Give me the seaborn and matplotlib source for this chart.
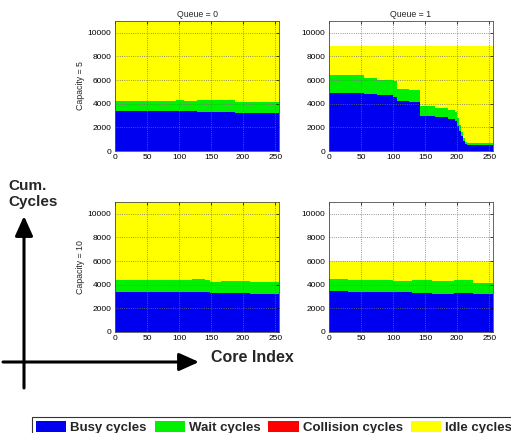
import numpy as np
import matplotlib
matplotlib.use("Agg")
import matplotlib.pyplot as plt
from matplotlib.patches import Patch
import seaborn as sns

sns.set_style("white")
plt.rcParams['font.family'] = ['Liberation Sans', 'DejaVu Sans']

# ---------------- data ----------------
series_names = ["Busy cycles", "Wait cycles", "Collision cycles", "Idle cycles"]
series_colors = ["#0000f0", "#00f000", "#ff0000", "#ffff00"]
n_cores = 256
queue_titles = ["Queue = 0", "Queue = 1"]
capacity_labels = ["Capacity = 5", "Capacity = 10"]
x_ticks = [0, 50, 100, 150, 200, 250]
y_ticks = [0, 2000, 4000, 6000, 8000, 10000]

# Queue = 0, Capacity = 5  (segment start core index, per-segment cycles)
q0c5_start = [0, 95, 108, 128, 152, 187, 225]
q0c5_busy = [3350, 3350, 3350, 3340, 3330, 3190, 3190]
q0c5_wait = [890, 980, 900, 980, 950, 960, 990]
q0c5_coll = [0, 0, 0, 0, 0, 0, 0]
q0c5_idle = [6960, 6870, 6950, 6880, 6920, 7050, 7020]

# Queue = 1, Capacity = 5
q1c5_start = [0, 55, 75, 100, 106, 125, 142, 165, 185, 197, 200, 203, 206, 209, 212, 215]
q1c5_busy = [4930, 4830, 4700, 4600, 4200, 4150, 2950, 2850, 2750, 2550, 2150, 1700, 1250, 850, 600, 490]
q1c5_wait = [1470, 1370, 1350, 1350, 1050, 1030, 900, 800, 700, 750, 650, 500, 350, 250, 180, 180]
q1c5_coll = [0] * 16
q1c5_idle = [2500, 2700, 2850, 2950, 3650, 3720, 5050, 5250, 5450, 5600, 6100, 6700, 7300, 7800, 8120, 8230]

# Queue = 0, Capacity = 10
q0c10_start = [0, 120, 140, 148, 165, 210]
q0c10_busy = [3380, 3380, 3380, 3270, 3320, 3210]
q0c10_wait = [990, 1070, 990, 980, 1020, 1020]
q0c10_coll = [0, 0, 0, 0, 0, 0]
q0c10_idle = [6830, 6750, 6830, 6950, 6860, 6970]

# Queue = 1, Capacity = 10
q1c10_start = [0, 30, 100, 130, 145, 160, 195, 225]
q1c10_busy = [3480, 3420, 3380, 3320, 3320, 3250, 3340, 3210]
q1c10_wait = [990, 960, 940, 1040, 1100, 1040, 1020, 960]
q1c10_coll = [0, 0, 0, 0, 0, 0, 0, 0]
q1c10_idle = [1530, 1620, 1680, 1640, 1580, 1710, 1640, 1830]

panels = [
    [(q0c5_start, [q0c5_busy, q0c5_wait, q0c5_coll, q0c5_idle]),
     (q1c5_start, [q1c5_busy, q1c5_wait, q1c5_coll, q1c5_idle])],
    [(q0c10_start, [q0c10_busy, q0c10_wait, q0c10_coll, q0c10_idle]),
     (q1c10_start, [q1c10_busy, q1c10_wait, q1c10_coll, q1c10_idle])],
]

# ---------------- figure ----------------
W, H = 511, 433
fig = plt.figure(figsize=(W / 100, H / 100), dpi=100)
fig.patch.set_facecolor("white")

col_left = [115, 329]
row_top = [21, 202]
ax_w, ax_h = 164, 130

for r in range(2):
    for c in range(2):
        left = col_left[c] / W
        bottom = (H - row_top[r] - ax_h) / H
        ax = fig.add_axes([left, bottom, ax_w / W, ax_h / H])
        starts, series = panels[r][c]
        edges = np.array(starts + [n_cores])
        base = np.zeros(len(edges))
        for vals, col in zip(series, series_colors):
            v = np.array(vals + [vals[-1]], dtype=float)
            top = base + v
            ax.fill_between(edges, base, top, step="post", color=col,
                            linewidth=0, zorder=1)
            base = top
        ax.set_xlim(0, n_cores)
        ax.set_ylim(0, 11000)
        ax.set_xticks(x_ticks)
        ax.set_yticks(y_ticks)
        ax.set_axisbelow(False)
        ax.grid(True, linestyle=":", color="0.45", linewidth=0.6, zorder=3)
        ax.tick_params(direction="in", length=2, width=0.5, labelsize=6,
                       top=True, right=True, pad=2.5, colors="black")
        for s in ax.spines.values():
            s.set_linewidth(0.6)
            s.set_color("0.3")
            s.set_zorder(4)
        if r == 0:
            ax.set_title(queue_titles[c], fontsize=6.3, pad=3)
        if c == 0:
            ax.set_ylabel(capacity_labels[r], fontsize=6.3, labelpad=2)

# overlay axes sketch
arrow_kw = dict(arrowstyle="-|>,head_width=0.45,head_length=1.0",
                color="black", lw=2.2, mutation_scale=12,
                shrinkA=0, shrinkB=0)
fig.add_artist(matplotlib.patches.FancyArrowPatch(
    (24 / W, (H - 388) / H), (24 / W, (H - 216) / H),
    transform=fig.transFigure, **arrow_kw))
fig.add_artist(matplotlib.patches.FancyArrowPatch(
    (3 / W, (H - 362) / H), (199 / W, (H - 362) / H),
    transform=fig.transFigure, **arrow_kw))
fig.text(8 / W, (H - 186) / H, "Cum.", fontsize=11, fontweight="bold",
         va="center", ha="left")
fig.text(8 / W, (H - 202) / H, "Cycles", fontsize=11, fontweight="bold",
         va="center", ha="left")
fig.text(211 / W, (H - 357) / H, "Core Index", fontsize=11.5,
         fontweight="bold", va="center", ha="left")

# legend
handles = [Patch(facecolor=col, edgecolor="none") for col in series_colors]
leg = fig.legend(handles, series_names, loc="lower left",
                 bbox_to_anchor=(32 / W, -0.012), ncol=4, frameon=True,
                 fancybox=False, edgecolor="black",
                 prop={"weight": "bold", "size": 9.5},
                 handlelength=2.3, handleheight=0.85, handletextpad=0.3,
                 columnspacing=0.6, borderpad=0.3, borderaxespad=0)
leg.get_frame().set_linewidth(0.8)

fig.savefig("out.png", dpi=100, facecolor="white")
